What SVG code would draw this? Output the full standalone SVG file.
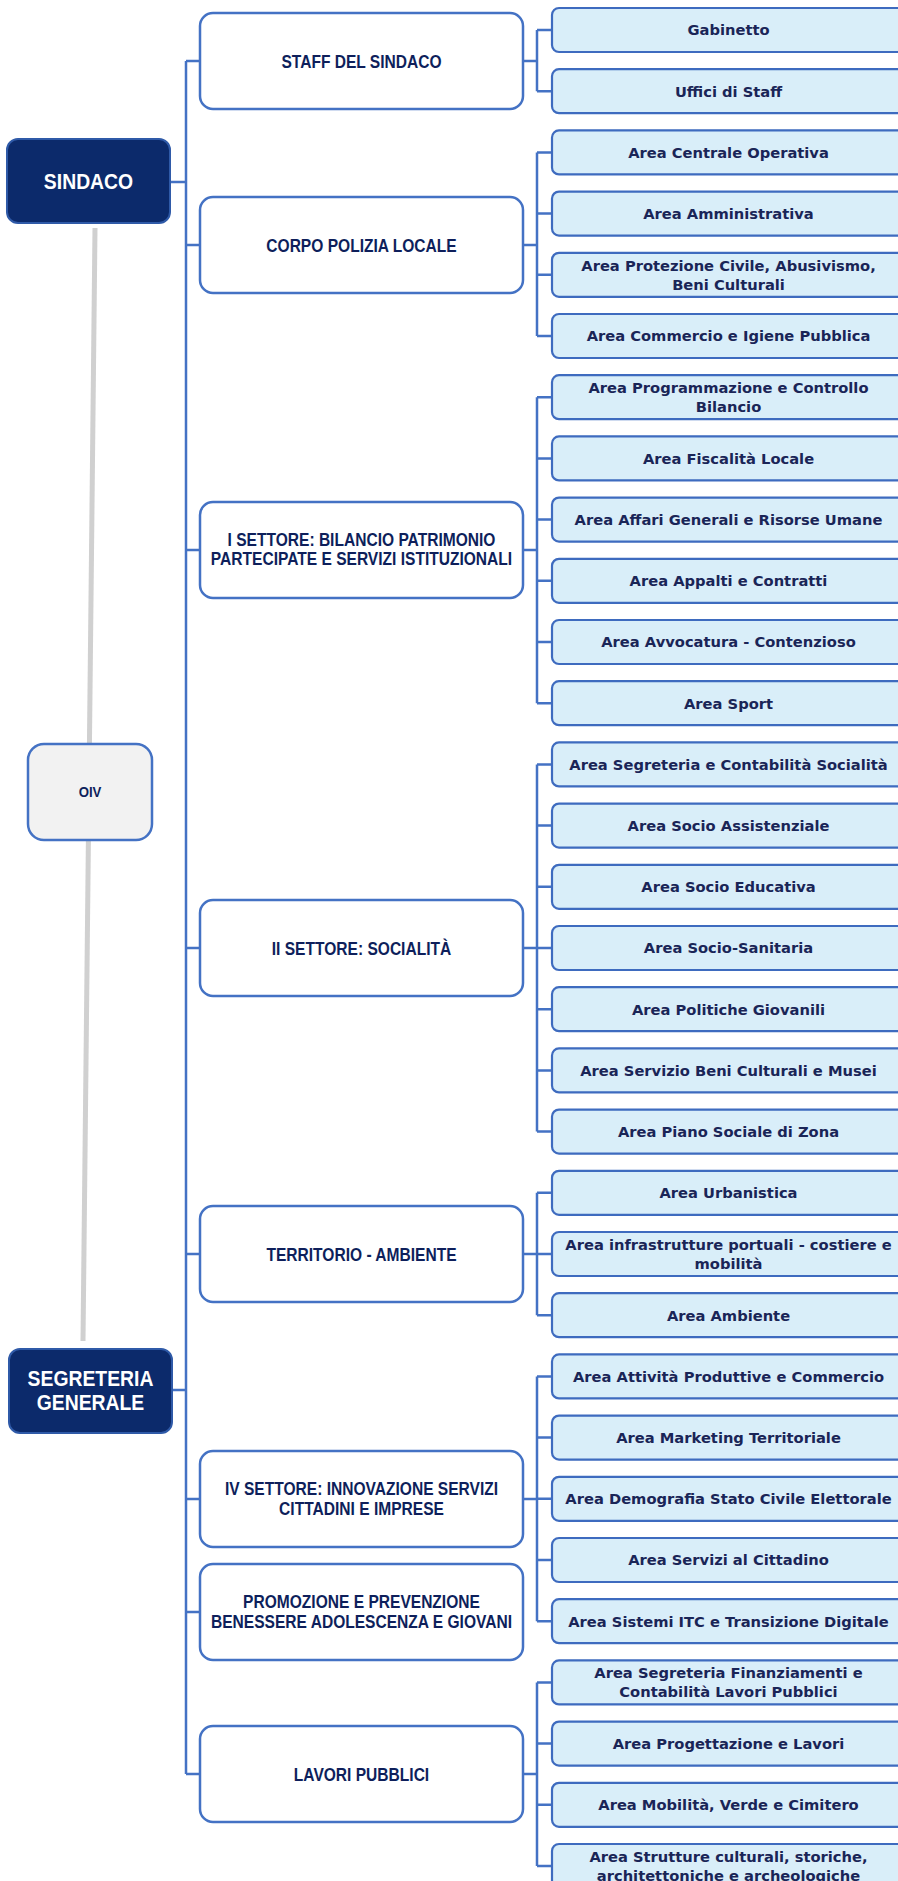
<svg xmlns="http://www.w3.org/2000/svg" width="898" height="1881" viewBox="0 0 898 1881">
<style>
.l1box{fill:#0c2a6b;stroke:#2f5aa8;stroke-width:2}
.l1txt{font-family:"Liberation Sans",Arial,sans-serif;font-weight:bold;font-size:22px;fill:#ffffff;text-anchor:middle}
.oivbox{fill:#f2f2f2;stroke:#4472c4;stroke-width:2.5}
.oivtxt{font-family:"Liberation Sans",Arial,sans-serif;font-weight:bold;font-size:15px;fill:#0e1f5b;text-anchor:middle}
.l2box{fill:#ffffff;stroke:#4472c4;stroke-width:2.5}
.l2txt{font-family:"Liberation Sans",Arial,sans-serif;font-weight:bold;font-size:18px;fill:#0e1f5b;text-anchor:middle}
.l3box{fill:#d9eef9;stroke:#3e6bbf;stroke-width:2.2}
.l3txt{font-family:"DejaVu Sans",sans-serif;font-weight:bold;font-size:14.7px;fill:#1a2557;text-anchor:middle}
.conn{fill:none;stroke:#4472c4;stroke-width:2.5}
.gray{fill:none;stroke:#d0d0d0;stroke-width:5}
</style>

<g id="gray-link">
<line class="gray" x1="95" y1="228" x2="83" y2="1341"/>
</g>

<g id="connectors">
<path class="conn" d="M186 61 V1774 M186 61 H200 M186 245 H200 M186 550 H200 M186 948 H200 M186 1254 H200 M186 1499 H200 M186 1612 H200 M186 1774 H200 M170 182 H186 M172 1390 H186"/>
<!-- STAFF -->
<path class="conn" d="M523 61 H537 M537 30 V91.2 M537 30 H552 M537 91.2 H552"/>
<!-- CORPO -->
<path class="conn" d="M523 245 H537 M537 152.4 V336 M537 152.4 H552 M537 213.6 H552 M537 274.8 H552 M537 336 H552"/>
<!-- I SETTORE -->
<path class="conn" d="M523 550 H537 M537 397.2 V703.2 M537 397.2 H552 M537 458.4 H552 M537 519.6 H552 M537 580.8 H552 M537 642 H552 M537 703.2 H552"/>
<!-- II SETTORE -->
<path class="conn" d="M523 948 H537 M537 764.4 V1131.6 M537 764.4 H552 M537 825.6 H552 M537 886.8 H552 M537 948 H552 M537 1009.2 H552 M537 1070.4 H552 M537 1131.6 H552"/>
<!-- TERRITORIO -->
<path class="conn" d="M523 1254 H537 M537 1192.8 V1315.2 M537 1192.8 H552 M537 1254 H552 M537 1315.2 H552"/>
<!-- IV SETTORE -->
<path class="conn" d="M523 1499 H537 M537 1376.4 V1621.2 M537 1376.4 H552 M537 1437.6 H552 M537 1498.8 H552 M537 1560 H552 M537 1621.2 H552"/>
<!-- LAVORI -->
<path class="conn" d="M523 1774 H537 M537 1682.4 V1866 M537 1682.4 H552 M537 1743.6 H552 M537 1804.8 H552 M537 1866 H552"/>
</g>

<g id="sindaco"><rect class="l1box" x="7" y="139" width="163" height="84" rx="11"/><text class="l1txt" transform="translate(88.5 189) scale(0.88 1)">SINDACO</text></g>
<g id="oiv"><rect class="oivbox" x="28" y="744" width="124" height="96" rx="16"/><text class="oivtxt" transform="translate(90 797) scale(0.88 1)">OIV</text></g>
<g id="segreteria"><rect class="l1box" x="9" y="1349" width="163" height="84" rx="11"/><text class="l1txt" transform="translate(90.5 1386) scale(0.88 1)">SEGRETERIA</text><text class="l1txt" transform="translate(90.5 1410) scale(0.88 1)">GENERALE</text></g>

<g id="staff"><rect class="l2box" x="200" y="13" width="323" height="96" rx="13"/><text class="l2txt" transform="translate(361.5 67.5) scale(0.865 1)">STAFF DEL SINDACO</text></g>
<g id="corpo"><rect class="l2box" x="200" y="197" width="323" height="96" rx="13"/><text class="l2txt" transform="translate(361.5 251.5) scale(0.865 1)">CORPO POLIZIA LOCALE</text></g>
<g id="settore1"><rect class="l2box" x="200" y="502" width="323" height="96" rx="13"/><text class="l2txt" transform="translate(361.5 545.5) scale(0.865 1)">I SETTORE: BILANCIO PATRIMONIO</text><text class="l2txt" transform="translate(361.5 564.5) scale(0.865 1)">PARTECIPATE E SERVIZI ISTITUZIONALI</text></g>
<g id="settore2"><rect class="l2box" x="200" y="900" width="323" height="96" rx="13"/><text class="l2txt" transform="translate(361.5 954.5) scale(0.865 1)">II SETTORE: SOCIALITÀ</text></g>
<g id="territorio"><rect class="l2box" x="200" y="1206" width="323" height="96" rx="13"/><text class="l2txt" transform="translate(361.5 1260.5) scale(0.865 1)">TERRITORIO - AMBIENTE</text></g>
<g id="settore4"><rect class="l2box" x="200" y="1451" width="323" height="96" rx="13"/><text class="l2txt" transform="translate(361.5 1494.5) scale(0.865 1)">IV SETTORE: INNOVAZIONE SERVIZI</text><text class="l2txt" transform="translate(361.5 1514.5) scale(0.865 1)">CITTADINI E IMPRESE</text></g>
<g id="promozione"><rect class="l2box" x="200" y="1564" width="323" height="96" rx="13"/><text class="l2txt" transform="translate(361.5 1607.5) scale(0.865 1)">PROMOZIONE E PREVENZIONE</text><text class="l2txt" transform="translate(361.5 1627.5) scale(0.865 1)">BENESSERE ADOLESCENZA E GIOVANI</text></g>
<g id="lavori"><rect class="l2box" x="200" y="1726" width="323" height="96" rx="13"/><text class="l2txt" transform="translate(361.5 1780.5) scale(0.865 1)">LAVORI PUBBLICI</text></g>

<g id="n0"><rect class="l3box" x="552" y="8" width="360" height="44" rx="7"/><text class="l3txt" x="728.5" y="35.3">Gabinetto</text></g>
<g id="n1"><rect class="l3box" x="552" y="69.2" width="360" height="44" rx="7"/><text class="l3txt" x="728.5" y="96.5">Uffici di Staff</text></g>
<g id="n2"><rect class="l3box" x="552" y="130.4" width="360" height="44" rx="7"/><text class="l3txt" x="728.5" y="157.7">Area Centrale Operativa</text></g>
<g id="n3"><rect class="l3box" x="552" y="191.6" width="360" height="44" rx="7"/><text class="l3txt" x="728.5" y="218.9">Area Amministrativa</text></g>
<g id="n4"><rect class="l3box" x="552" y="252.8" width="360" height="44" rx="7"/><text class="l3txt" x="728.5" y="270.6">Area Protezione Civile, Abusivismo,</text><text class="l3txt" x="728.5" y="289.6">Beni Culturali</text></g>
<g id="n5"><rect class="l3box" x="552" y="314" width="360" height="44" rx="7"/><text class="l3txt" x="728.5" y="341.3">Area Commercio e Igiene Pubblica</text></g>
<g id="n6"><rect class="l3box" x="552" y="375.2" width="360" height="44" rx="7"/><text class="l3txt" x="728.5" y="393">Area Programmazione e Controllo</text><text class="l3txt" x="728.5" y="412">Bilancio</text></g>
<g id="n7"><rect class="l3box" x="552" y="436.4" width="360" height="44" rx="7"/><text class="l3txt" x="728.5" y="463.7">Area Fiscalità Locale</text></g>
<g id="n8"><rect class="l3box" x="552" y="497.6" width="360" height="44" rx="7"/><text class="l3txt" x="728.5" y="524.9">Area Affari Generali e Risorse Umane</text></g>
<g id="n9"><rect class="l3box" x="552" y="558.8" width="360" height="44" rx="7"/><text class="l3txt" x="728.5" y="586.1">Area Appalti e Contratti</text></g>
<g id="n10"><rect class="l3box" x="552" y="620" width="360" height="44" rx="7"/><text class="l3txt" x="728.5" y="647.3">Area Avvocatura - Contenzioso</text></g>
<g id="n11"><rect class="l3box" x="552" y="681.2" width="360" height="44" rx="7"/><text class="l3txt" x="728.5" y="708.5">Area Sport</text></g>
<g id="n12"><rect class="l3box" x="552" y="742.4" width="360" height="44" rx="7"/><text class="l3txt" x="728.5" y="769.7">Area Segreteria e Contabilità Socialità</text></g>
<g id="n13"><rect class="l3box" x="552" y="803.6" width="360" height="44" rx="7"/><text class="l3txt" x="728.5" y="830.9">Area Socio Assistenziale</text></g>
<g id="n14"><rect class="l3box" x="552" y="864.8" width="360" height="44" rx="7"/><text class="l3txt" x="728.5" y="892.1">Area Socio Educativa</text></g>
<g id="n15"><rect class="l3box" x="552" y="926" width="360" height="44" rx="7"/><text class="l3txt" x="728.5" y="953.3">Area Socio-Sanitaria</text></g>
<g id="n16"><rect class="l3box" x="552" y="987.2" width="360" height="44" rx="7"/><text class="l3txt" x="728.5" y="1014.5">Area Politiche Giovanili</text></g>
<g id="n17"><rect class="l3box" x="552" y="1048.4" width="360" height="44" rx="7"/><text class="l3txt" x="728.5" y="1075.7">Area Servizio Beni Culturali e Musei</text></g>
<g id="n18"><rect class="l3box" x="552" y="1109.6" width="360" height="44" rx="7"/><text class="l3txt" x="728.5" y="1136.9">Area Piano Sociale di Zona</text></g>
<g id="n19"><rect class="l3box" x="552" y="1170.8" width="360" height="44" rx="7"/><text class="l3txt" x="728.5" y="1198.1">Area Urbanistica</text></g>
<g id="n20"><rect class="l3box" x="552" y="1232" width="360" height="44" rx="7"/><text class="l3txt" x="728.5" y="1249.8">Area infrastrutture portuali - costiere e</text><text class="l3txt" x="728.5" y="1268.8">mobilità</text></g>
<g id="n21"><rect class="l3box" x="552" y="1293.2" width="360" height="44" rx="7"/><text class="l3txt" x="728.5" y="1320.5">Area Ambiente</text></g>
<g id="n22"><rect class="l3box" x="552" y="1354.4" width="360" height="44" rx="7"/><text class="l3txt" x="728.5" y="1381.7">Area Attività Produttive e Commercio</text></g>
<g id="n23"><rect class="l3box" x="552" y="1415.6" width="360" height="44" rx="7"/><text class="l3txt" x="728.5" y="1442.9">Area Marketing Territoriale</text></g>
<g id="n24"><rect class="l3box" x="552" y="1476.8" width="360" height="44" rx="7"/><text class="l3txt" x="728.5" y="1504.1">Area Demografia Stato Civile Elettorale</text></g>
<g id="n25"><rect class="l3box" x="552" y="1538" width="360" height="44" rx="7"/><text class="l3txt" x="728.5" y="1565.3">Area Servizi al Cittadino</text></g>
<g id="n26"><rect class="l3box" x="552" y="1599.2" width="360" height="44" rx="7"/><text class="l3txt" x="728.5" y="1626.5">Area Sistemi ITC e Transizione Digitale</text></g>
<g id="n27"><rect class="l3box" x="552" y="1660.4" width="360" height="44" rx="7"/><text class="l3txt" x="728.5" y="1678.2">Area Segreteria Finanziamenti e</text><text class="l3txt" x="728.5" y="1697.2">Contabilità Lavori Pubblici</text></g>
<g id="n28"><rect class="l3box" x="552" y="1721.6" width="360" height="44" rx="7"/><text class="l3txt" x="728.5" y="1748.9">Area Progettazione e Lavori</text></g>
<g id="n29"><rect class="l3box" x="552" y="1782.8" width="360" height="44" rx="7"/><text class="l3txt" x="728.5" y="1810.1">Area Mobilità, Verde e Cimitero</text></g>
<g id="n30"><rect class="l3box" x="552" y="1844" width="360" height="44" rx="7"/><text class="l3txt" x="728.5" y="1861.8">Area Strutture culturali, storiche,</text><text class="l3txt" x="728.5" y="1880.8">architettoniche e archeologiche</text></g>
</svg>
